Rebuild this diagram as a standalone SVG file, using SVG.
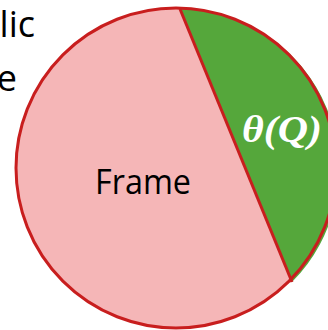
<svg xmlns="http://www.w3.org/2000/svg" width="328" height="330" viewBox="0 0 328 330">
<style>
.lbl{font-family:"Open Sans","Liberation Sans",sans-serif;fill:#000}
.math{font-family:"Liberation Serif","DejaVu Serif",serif;font-weight:bold;font-style:italic;fill:#fff}
</style>
<rect width="328" height="330" fill="#fff"/>
<text class="lbl" x="35" y="37" font-size="36" text-anchor="end">lic</text>
<text class="lbl" x="17" y="91" font-size="36" text-anchor="end">e</text>
<g id="frame">
<circle cx="176" cy="168" r="160" fill="#F5B6B7"/>
<text class="lbl" x="143" y="194" font-size="35" text-anchor="middle" textLength="96" lengthAdjust="spacingAndGlyphs">Frame</text>
</g>
<g id="theta">
<path d="M180,9 A160,160 0 0 1 292,282 Z" fill="#55A73B"/>
<text class="math" x="242" y="142" font-size="38" textLength="80" lengthAdjust="spacingAndGlyphs">θ(Q)</text>
</g>
<g id="connectors">
<line x1="180" y1="9" x2="292" y2="282" stroke="#C81E1E" stroke-width="3"/>
<circle cx="176" cy="168" r="160" fill="none" stroke="#C81E1E" stroke-width="3"/>
</g>
</svg>
